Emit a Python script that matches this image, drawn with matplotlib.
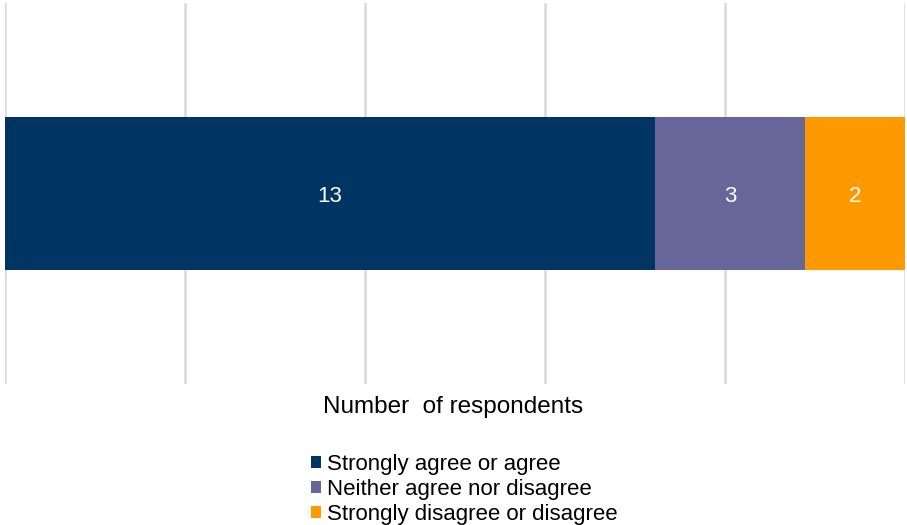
import matplotlib.pyplot as plt
from matplotlib.patches import Patch

plt.rcParams['font.family'] = ['Liberation Sans', 'DejaVu Sans']

categories = ['Strongly agree or agree', 'Neither agree nor disagree',
              'Strongly disagree or disagree']
counts = [13, 3, 2]
colors = ['#003462', '#666699', '#FF9900']

total = sum(counts)
shares = [c / total * 100 for c in counts]

fig = plt.figure(figsize=(9.07, 5.25), dpi=100)
ax = fig.add_axes([5 / 907, 1 - 384 / 525, 900 / 907, 381 / 525])

left = 0
for name, cnt, share, col in zip(categories, counts, shares, colors):
    ax.barh(0, share, left=left, height=0.4, color=col, label=name, zorder=2)
    ax.text(left + share / 2, 0, str(cnt), ha='center', va='center_baseline',
            color='white', fontsize=16, zorder=3)
    left += share

ax.set_xlim(0, 100)
ax.set_ylim(-0.5, 0.5)
ax.set_xticks([0, 20, 40, 60, 80, 100])
ax.set_yticks([])
ax.tick_params(axis='x', length=0, labelbottom=False)
ax.grid(axis='x', color='#D9D9D9', linewidth=1.8, zorder=0)
for s in ax.spines.values():
    s.set_visible(False)

fig.text(453 / 907, 1 - 407 / 525, 'Number  of respondents', ha='center',
         va='center', fontsize=17.5)

handles = [Patch(facecolor=c, edgecolor='none') for c in colors]
fig.legend(handles, categories, loc='upper left',
           bbox_to_anchor=(300 / 907, 1 - 443 / 525), frameon=False,
           fontsize=16, handlelength=0.45, handleheight=0.45,
           handletextpad=0.25, labelspacing=0.17, borderpad=0)

fig.savefig('out.png', dpi=100)
